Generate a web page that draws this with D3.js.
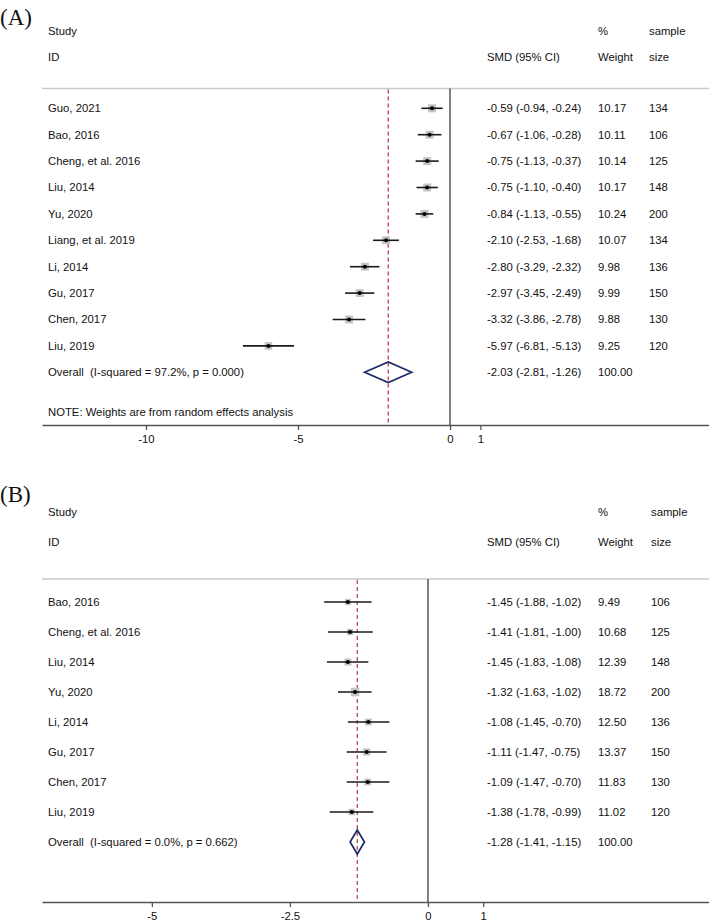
<!DOCTYPE html>
<html>
<head>
<meta charset="utf-8">
<script src="https://cdn.jsdelivr.net/npm/d3@7"></script>
<style>
  html, body { margin: 0; padding: 0; background: #fff; }
  svg text { font-family: "Liberation Sans", Arial, sans-serif; fill: #111; }
</style>
</head>
<body>
<svg id="chart" width="709" height="923"></svg>
<script>
// ---------- Panel A data ----------
const studiesA = ["Guo, 2021","Bao, 2016","Cheng, et al. 2016","Liu, 2014","Yu, 2020","Liang, et al. 2019","Li, 2014","Gu, 2017","Chen, 2017","Liu, 2019"];
const smdA    = [-0.59,-0.67,-0.75,-0.75,-0.84,-2.10,-2.80,-2.97,-3.32,-5.97];
const lowA    = [-0.94,-1.06,-1.13,-1.10,-1.13,-2.53,-3.29,-3.45,-3.86,-6.81];
const highA   = [-0.24,-0.28,-0.37,-0.40,-0.55,-1.68,-2.32,-2.49,-2.78,-5.13];
const weightA = [10.17,10.11,10.14,10.17,10.24,10.07,9.98,9.99,9.88,9.25];
const sampleA = [134,106,125,148,200,134,136,150,130,120];
const overallA = [-2.03,-2.81,-1.26];
const overallLabelA = "Overall  (I-squared = 97.2%, p = 0.000)";
const ticksA = [-10,-5,0,1];
const noteA = "NOTE: Weights are from random effects analysis";

// ---------- Panel B data ----------
const studiesB = ["Bao, 2016","Cheng, et al. 2016","Liu, 2014","Yu, 2020","Li, 2014","Gu, 2017","Chen, 2017","Liu, 2019"];
const smdB    = [-1.45,-1.41,-1.45,-1.32,-1.08,-1.11,-1.09,-1.38];
const lowB    = [-1.88,-1.81,-1.83,-1.63,-1.45,-1.47,-1.47,-1.78];
const highB   = [-1.02,-1.00,-1.08,-1.02,-0.70,-0.75,-0.70,-0.99];
const weightB = [9.49,10.68,12.39,18.72,12.50,13.37,11.83,11.02];
const sampleB = [106,125,148,200,136,150,130,120];
const overallB = [-1.28,-1.41,-1.15];
const overallLabelB = "Overall  (I-squared = 0.0%, p = 0.662)";
const ticksB = [-5,-2.5,0,1];

// Headers
const headerTop = ["Study", "", "%", "sample"];
const headerBottom = ["ID", "SMD (95% CI)", "Weight", "size"];

const loc = d3.formatLocale({decimal: ".", thousands: ",", grouping: [3], currency: ["", ""], minus: "-"});
const f2 = loc.format(".2f");
const fTick = loc.format("~g");

const svg = d3.select("#chart");

function drawPanel(o) {
  const g = svg.append("g");
  const x = d3.scaleLinear().domain(o.domain).range([42, 709]);
  const y = d3.scaleLinear().domain([0, 1]).range([o.y0, o.y0 + o.step]);
  const n = o.studies.length;
  const colX = {name: 48, smd: 487, w: 598, s: o.sCol};
  const fs = "11.3px";

  // panel letter
  g.append("text").attr("x", 0).attr("y", o.letterY)
    .style("font-family", "'Liberation Serif','Times New Roman',serif")
    .style("font-size", "23px").text(o.letter);

  // headers
  const hx = [colX.name, colX.smd, colX.w, colX.s];
  headerTop.forEach((t, i) => { if (t) g.append("text").attr("x", hx[i]).attr("y", y(o.hTop)).attr("dy", "0.35em").style("font-size", fs).text(t); });
  headerBottom.forEach((t, i) => g.append("text").attr("x", hx[i]).attr("y", y(o.hTop + 1)).attr("dy", "0.35em").style("font-size", fs).text(t));

  // divider
  g.append("line").attr("x1", 42).attr("x2", 709).attr("y1", y(o.divIdx)).attr("y2", y(o.divIdx))
    .attr("stroke", "#c8c8c8").attr("stroke-width", 1.5);

  // zero line
  g.append("line").attr("x1", x(0)).attr("x2", x(0)).attr("y1", y(o.divIdx)).attr("y2", y(o.axisIdx))
    .attr("stroke", "#555").attr("stroke-width", 1.5);

  // overall dashed line
  g.append("line").attr("x1", x(o.overall[0])).attr("x2", x(o.overall[0]))
    .attr("y1", y(o.divIdx) + 1).attr("y2", y(o.axisIdx))
    .attr("stroke", o.dashColor).attr("stroke-width", 1.3).attr("stroke-dasharray", "4,3");

  const maxW = d3.max(o.weight);
  // studies
  o.studies.forEach((s, i) => {
    const yy = y(i);
    g.append("text").attr("x", colX.name).attr("y", yy).attr("dy", "0.35em").style("font-size", fs).text(s);
    g.append("text").attr("x", colX.smd).attr("y", yy).attr("dy", "0.35em").style("font-size", fs)
      .text(`${f2(o.smd[i])} (${f2(o.low[i])}, ${f2(o.high[i])})`);
    g.append("text").attr("x", colX.w).attr("y", yy).attr("dy", "0.35em").style("font-size", fs).text(f2(o.weight[i]));
    g.append("text").attr("x", colX.s).attr("y", yy).attr("dy", "0.35em").style("font-size", fs).text(o.sample[i]);
    const side = o.boxMax * Math.sqrt(o.weight[i] / maxW);
    g.append("rect").attr("x", x(o.smd[i]) - side / 2).attr("y", yy - side / 2)
      .attr("width", side).attr("height", side).attr("fill", "#c4c4c4");
    g.append("line").attr("x1", x(o.low[i])).attr("x2", x(o.high[i])).attr("y1", yy).attr("y2", yy)
      .attr("stroke", "#1a1a1a").attr("stroke-width", 1.6);
    g.append("circle").attr("cx", x(o.smd[i])).attr("cy", yy).attr("r", 2).attr("fill", "#000");
  });

  // overall
  const yo = y(n);
  g.append("text").attr("x", colX.name).attr("y", yo).attr("dy", "0.35em").style("font-size", fs)
    .style("white-space", "pre").attr("xml:space", "preserve").text(o.overallLabel);
  g.append("text").attr("x", colX.smd).attr("y", yo).attr("dy", "0.35em").style("font-size", fs)
    .text(`${f2(o.overall[0])} (${f2(o.overall[1])}, ${f2(o.overall[2])})`);
  g.append("text").attr("x", colX.w).attr("y", yo).attr("dy", "0.35em").style("font-size", fs).text(f2(100));
  const h = o.diamondH;
  const pts = [[x(o.overall[1]), yo], [x(o.overall[0]), yo - h], [x(o.overall[2]), yo], [x(o.overall[0]), yo + h]];
  g.append("polygon").attr("points", pts.map(p => p.join(",")).join(" "))
    .attr("fill", "none").attr("stroke", "#1f2a6a").attr("stroke-width", 1.7).attr("stroke-linejoin", "miter");

  if (o.note) {
    g.append("text").attr("x", colX.name).attr("y", y(n + 1.5)).attr("dy", "0.35em").style("font-size", fs).text(o.note);
  }

  // axis
  const axis = d3.axisBottom(x).tickValues(o.ticks).tickFormat(fTick).tickSize(5).tickPadding(5).tickSizeOuter(0);
  const ag = g.append("g").attr("transform", `translate(0,${y(o.axisIdx)})`).call(axis);
  ag.select(".domain").attr("stroke", "#555").attr("stroke-width", 1.5);
  ag.selectAll(".tick line").attr("stroke", "#555").attr("stroke-width", 1.3);
  ag.selectAll(".tick text").style("font-size", fs).style("font-family", "'Liberation Sans', Arial, sans-serif").attr("fill", "#111");
}

drawPanel({
  letter: "(A)", letterY: 25,
  studies: studiesA, smd: smdA, low: lowA, high: highA, weight: weightA, sample: sampleA,
  overall: overallA, overallLabel: overallLabelA, note: noteA, ticks: ticksA,
  domain: [-13.42, 8.52], y0: 108.3, step: 26.4, hTop: -2.93, divIdx: -0.75, axisIdx: 12.0,
  diamondH: 10.3, boxMax: 8, sCol: 649, dashColor: "#c9384f"
});

drawPanel({
  letter: "(B)", letterY: 502,
  studies: studiesB, smd: smdB, low: lowB, high: highB, weight: weightB, sample: sampleB,
  overall: overallB, overallLabel: overallLabelB, note: null, ticks: ticksB,
  domain: [-6.99, 5.09], y0: 602, step: 30, hTop: -3, divIdx: -0.77, axisIdx: 10.0,
  diamondH: 12, boxMax: 8.5, sCol: 651, dashColor: "#b94a5c"
});
</script>
</body>
</html>
